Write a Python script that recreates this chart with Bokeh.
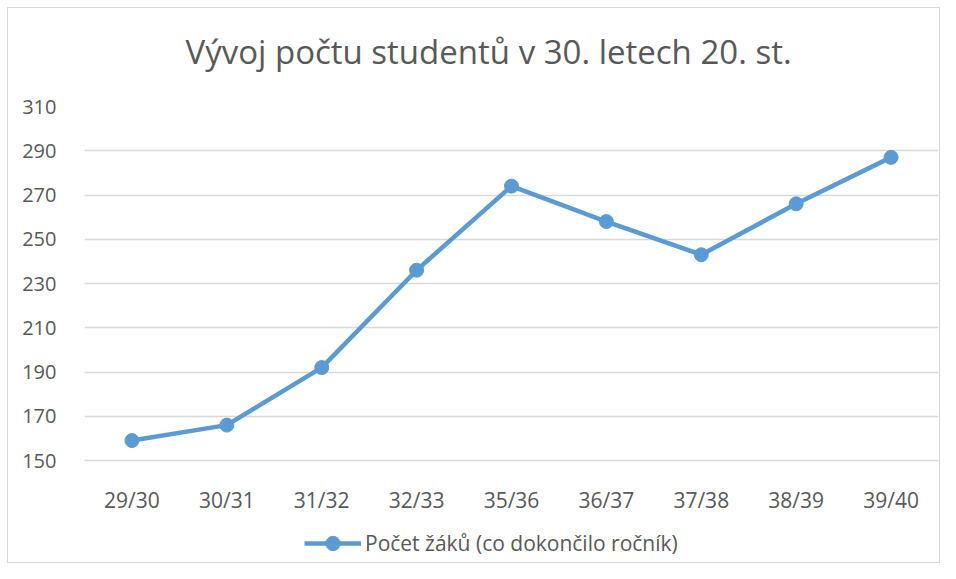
from bokeh.plotting import figure
from bokeh.layouts import column
from bokeh.models import Range1d, FixedTicker, Legend, LegendItem, Title, FactorRange
from bokeh.embed import file_html
from bokeh.resources import INLINE

categories = ["29/30", "30/31", "31/32", "32/33", "35/36", "36/37", "37/38", "38/39", "39/40"]
values = [159, 166, 192, 236, 274, 258, 243, 266, 287]
y_ticks = [150, 170, 190, 210, 230, 250, 270, 290, 310]
title_text = "Vývoj počtu studentů v 30. letech 20. st."
series_name = "Počet žáků (co dokončilo ročník)"

FONT = "Open Sans"
GREY = "#595959"
BLUE = "#5b9bd5"
BORDER = "1px solid #d9d9d9"

x_range = FactorRange(*categories, range_padding=0)

p = figure(width=933, height=513, output_backend="svg", toolbar_location=None,
           x_range=x_range, y_range=Range1d(150, 310),
           min_border_left=76, min_border_right=3, min_border_top=98, min_border_bottom=61)
p.styles = {"border-top": BORDER, "border-left": BORDER, "border-right": BORDER}
p.outline_line_color = None
p.background_fill_color = "white"
p.border_fill_color = "white"

title_kw = dict(text=title_text, align="left", offset=101, text_font=FONT,
                text_font_size="33px", text_font_style="normal", text_color=GREY,
                vertical_align="top")
try:
    t = Title(standoff=40, padding=dict(left=0, right=0, top=0, bottom=11), **title_kw)
except Exception:
    t = Title(standoff=40, **title_kw)
p.add_layout(t, "above")

p.line(categories, values, line_color=BLUE, line_width=4.5)
p.scatter(categories, values, size=14, fill_color=BLUE, line_color=BLUE)

p.yaxis.ticker = FixedTicker(ticks=y_ticks)
p.yaxis.axis_line_color = None
p.yaxis.major_tick_line_color = None
p.yaxis.minor_tick_line_color = None
p.yaxis.major_label_text_font = FONT
p.yaxis.major_label_text_font_size = "20px"
p.yaxis.major_label_text_color = GREY
p.yaxis.major_label_standoff = 22

p.xaxis.axis_line_color = "#d9d9d9"
p.xaxis.axis_line_width = 1.5
p.xaxis.major_tick_line_color = None
p.xaxis.minor_tick_line_color = None
p.xaxis.major_label_text_font = FONT
p.xaxis.major_label_text_font_size = "21px"
p.xaxis.major_label_text_color = GREY
p.xaxis.major_label_standoff = 19

p.xgrid.grid_line_color = None
p.ygrid.grid_line_color = "#d9d9d9"
p.ygrid.grid_line_width = 1.5
p.ygrid.ticker = FixedTicker(ticks=y_ticks)

# legend strip below the chart
p2 = figure(width=933, height=43, output_backend="svg", toolbar_location=None,
            x_range=x_range, y_range=Range1d(150, 310),
            x_axis_location=None, y_axis_location=None,
            min_border_left=0, min_border_right=0, min_border_top=0, min_border_bottom=0)
p2.styles = {"border-bottom": BORDER, "border-left": BORDER, "border-right": BORDER}
p2.outline_line_color = None
p2.grid.visible = False
p2.background_fill_color = "white"
p2.border_fill_color = "white"
l_line = p2.line(categories, values, line_color=BLUE, line_width=4.5, visible=False)
l_pts = p2.scatter(categories, values, size=14, fill_color=BLUE, line_color=BLUE, visible=False)

legend = Legend(items=[LegendItem(label=series_name, renderers=[l_line, l_pts])],
                orientation="horizontal", location=(220, 2),
                label_text_font=FONT, label_text_font_size="21px", label_text_color=GREY,
                glyph_width=57, glyph_height=36, label_height=36, border_line_color=None,
                background_fill_alpha=0, padding=0, margin=0, label_standoff=4)
p2.add_layout(legend, "center")

layout = column(p, p2, spacing=0, margin=(7, 0, 0, 7))

open("out.html", "w").write(file_html(layout, INLINE))
